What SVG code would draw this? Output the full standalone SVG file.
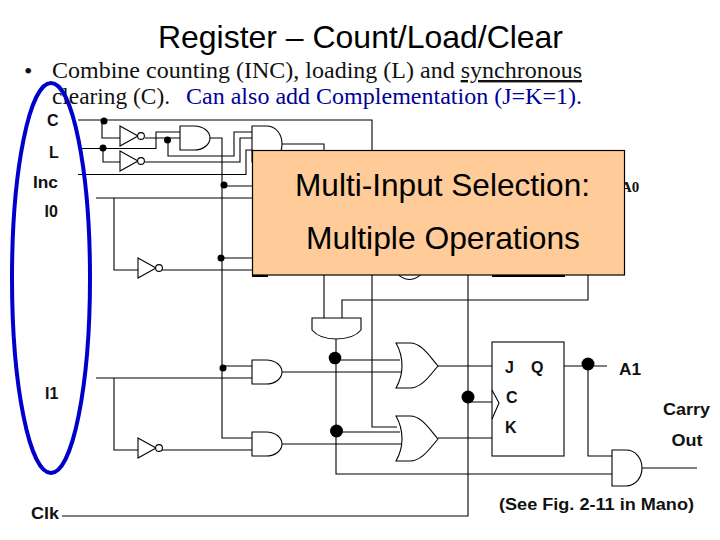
<svg xmlns="http://www.w3.org/2000/svg" width="720" height="540" viewBox="0 0 720 540">
<defs>
<style>
.w{fill:none;stroke:#000;stroke-width:1.1}
.g{fill:#fff;stroke:#000;stroke-width:1.1}
.d{fill:#000}
.l{font-family:"Liberation Sans",Arial,sans-serif;font-weight:bold;font-size:16px;fill:#111}
.b{font-family:"Liberation Serif","Times New Roman",serif;font-size:24px;fill:#111}
.h{font-family:"Liberation Sans",Arial,sans-serif;fill:#000;font-size:32px}
</style>
<g id="and"><path class="g" d="M0 0H14C24 0 30 6 30 12S24 24 14 24H0Z"/></g>
<g id="inv"><path class="g" d="M0 0L18 10L0 20Z"/><circle class="g" cx="21" cy="10" r="3.4"/></g>
<path id="or" class="g" d="M0 0C4 0 10 0 14 0C26 0 34 14 42 23C34 32 26 45 14 45C10 45 4 45 0 45C4 38 6 30 6 23C6 15 4 7 0 0Z"/>
</defs>
<rect width="720" height="540" fill="#fff"/>
<g id="slide-text">
<text class="h" x="158" y="48" textLength="405" lengthAdjust="spacingAndGlyphs">Register – Count/Load/Clear</text>
<text class="b" x="24" y="79">•</text>
<text class="b" x="52" y="78" textLength="530" lengthAdjust="spacingAndGlyphs">Combine counting (INC), loading (L) and <tspan text-decoration="underline">synchronous</tspan></text>
<text class="b" x="52" y="104" textLength="118" lengthAdjust="spacingAndGlyphs">clearing (C).</text>
<text class="b" x="186" y="104" style="fill:#000099" textLength="396" lengthAdjust="spacingAndGlyphs">Can also add Complementation (J=K=1).</text>
</g>
<g id="connectors">
<path class="w" d="M78 120H372V427H397"/>
<path class="w" d="M102 120V138H120M82 148.500H156V132H180M103 148.500V162H120"/>
<path class="w" d="M145 138H180M168 140V156H234V132H252M145 162H240V138H252M78 174.500H246V150H252"/>
<path class="w" d="M210 138H222V438H252M282 144H324V318M222 186H252M96 198H252M114 198V270H138M222 258H252M162 270H252"/>
<path class="w" d="M588 275V300H342V318M336 339V474H612M336 360H400M282 372H402M336 432H400M282 444H402M96 378H252M114 378V450H138M162 450H252M222 366H252"/>
<path class="w" d="M438 366H492M438 438H492M468 275V516H62M468 402H492M564 366H607M588 366V456H612M642 468H697"/>
</g>
<g id="gate-inv1"><use href="#inv" x="120" y="126"/></g>
<g id="gate-inv2"><use href="#inv" x="120" y="151"/></g>
<g id="gate-and1"><use href="#and" x="180" y="126"/></g>
<g id="gate-top"><path class="g" d="M252 126H266C276 126 282 134 282 144S276 162 266 162H252Z"/></g>
<g id="gate-inv3"><use href="#inv" x="138" y="258"/></g>
<g id="gate-or-hidden"><path class="g" d="M396 272C404 282 415 282 423 272Z"/></g>
<g id="gate-sum"><path class="g" d="M312 318H361V330C356 336 346 339 336 339S317 336 312 330Z"/></g>
<g id="gate-and2"><use href="#and" x="252" y="360"/></g>
<g id="gate-and3"><use href="#and" x="252" y="432"/></g>
<g id="gate-inv4"><use href="#inv" x="138" y="438"/></g>
<g id="gate-or1"><use href="#or" x="396" y="343"/></g>
<g id="gate-or2"><use href="#or" x="396" y="416"/></g>
<g id="flipflop-a1">
<rect class="g" x="492" y="342" width="72" height="114"/>
<path class="w" d="M492 390L499 403L492 419"/>
<text class="l" x="505" y="373">J</text><text class="l" x="531" y="373">Q</text>
<text class="l" x="506" y="403">C</text><text class="l" x="505" y="433">K</text>
</g>
<g id="gate-carry"><path class="g" d="M612 450H626C636 450 642 459 642 468S636 486 626 486H612Z"/></g>
<g id="junctions">
<circle class="d" cx="104" cy="121" r="3.500"/><circle class="d" cx="103" cy="148" r="3.500"/><circle class="d" cx="167.500" cy="140" r="3.500"/>
<circle class="d" cx="224" cy="185" r="3.500"/><circle class="d" cx="221" cy="258" r="3.500"/><circle class="d" cx="223" cy="368" r="3.500"/>
<circle class="d" cx="335" cy="358" r="6.300"/><circle class="d" cx="336.500" cy="431" r="6.500"/><circle class="d" cx="468" cy="397" r="6.500"/><circle class="d" cx="588" cy="364" r="6.500"/>
</g>
<g id="labels">
<text class="l" x="47" y="126">C</text><text class="l" x="49" y="158">L</text><text class="l" x="33" y="188" textLength="25" lengthAdjust="spacingAndGlyphs">Inc</text><text class="l" x="44.500" y="217">I0</text>
<text class="l" x="45" y="399">I1</text><text class="l" x="31" y="519" textLength="28" lengthAdjust="spacingAndGlyphs">Clk</text>
<text class="l" x="619" y="375" textLength="22" lengthAdjust="spacingAndGlyphs">A1</text><text class="l" x="663" y="415" textLength="47" lengthAdjust="spacingAndGlyphs">Carry</text><text class="l" x="671.500" y="445.500" textLength="31" lengthAdjust="spacingAndGlyphs">Out</text>
<text class="l" x="499" y="510" textLength="195" lengthAdjust="spacingAndGlyphs">(See Fig. 2-11 in Mano)</text>
<text x="621" y="192" font-family="Liberation Serif,serif" font-weight="bold" font-size="15" fill="#111">A0</text>
</g>
<g id="overlay">
<path fill="#000" d="M252 274H268V277H252ZM492 274H565V277H492Z"/>
<rect x="252.500" y="150.500" width="372" height="124.500" fill="#ffcc99" stroke="#000" stroke-width="1.200"/>
<text class="h" x="295" y="196" textLength="295" lengthAdjust="spacingAndGlyphs">Multi-Input Selection:</text>
<text class="h" x="306" y="249" textLength="274" lengthAdjust="spacingAndGlyphs">Multiple Operations</text>
</g>
<g id="selection-ellipse"><ellipse cx="51" cy="278" rx="39" ry="195" fill="none" stroke="#0000cc" stroke-width="4"/></g>
</svg>
